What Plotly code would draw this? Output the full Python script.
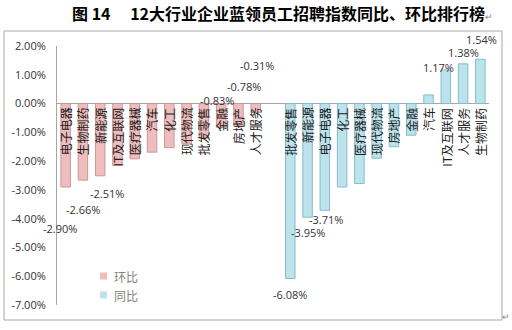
import plotly.graph_objects as go

# ---- data ----
hb_names = ["电子电器", "生物制药", "新能源", "IT及互联网", "医疗器械", "汽车", "化工",
            "现代物流", "批发零售", "金融", "房地产", "人才服务"]
hb_values = [-2.90, -2.66, -2.51, -2.15, -1.92, -1.69, -1.53, -1.40, -1.20, -0.83, -0.78, -0.31]

tb_names = ["批发零售", "新能源", "电子电器", "化工", "医疗器械", "现代物流", "房地产", "金融",
            "汽车", "IT及互联网", "人才服务", "生物制药"]
tb_values = [-6.08, -3.95, -3.71, -2.90, -2.78, -1.90, -1.50, -1.10, 0.30, 1.17, 1.38, 1.54]

yticks = [2, 1, 0, -1, -2, -3, -4, -5, -6, -7]
ytick_text = ["2.00%", "1.00%", "0.00%", "-1.00%", "-2.00%", "-3.00%", "-4.00%", "-5.00%", "-6.00%", "-7.00%"]

series_names = ["环比", "同比"]

# shown data labels: index in series and label position (x offset, y value, extra pixel shift)
hb_label_idx = [0, 1, 2, 9, 10, 11]
hb_label_pos = [(-0.35, -4.33, 0), (0.0, -3.67, 0), (0.4, -3.11, 0), (-0.25, 0.12, 0), (0.3, 0.61, 0), (0.1, 1.33, 0)]
tb_label_idx = [0, 1, 2, 9, 10, 11]
tb_label_pos = [(0.0, -6.62, 0), (0.0, -4.47, 0), (0.05, -4.02, 0), (-0.45, 1.27, 0), (0.05, 1.76, 0), (0.05, 2.0, 7)]

hb_x = list(range(len(hb_names)))
tb_x = [len(hb_names) + 1 + i for i in range(len(tb_names))]

PINK, PINK_LINE = "#EFBDBD", "#C79898"
BLUE, BLUE_LINE = "#BCE3EC", "#86BBCB"

fig = go.Figure()
fig.add_trace(go.Bar(x=hb_x, y=hb_values, name=series_names[0], width=0.55,
                     marker=dict(color=PINK, line=dict(color=PINK_LINE, width=1))))
fig.add_trace(go.Bar(x=tb_x, y=tb_values, name=series_names[1], width=0.55,
                     marker=dict(color=BLUE, line=dict(color=BLUE_LINE, width=1))))

W, H = 512, 330
L, R, T, B = 57, 23, 46, 25
pw, ph = W - L - R, H - T - B


def px_to_paper(x, y):
    return (x - L) / pw, 1 - (y - T) / ph


ann = []
# category labels (rotated, reading bottom to top)
for xs, names in ((hb_x, hb_names), (tb_x, tb_names)):
    for x, n in zip(xs, names):
        ann.append(dict(x=x, y=0, xref="x", yref="y", text=n, textangle=-90,
                        showarrow=False, xanchor="center", yanchor="top", yshift=-2,
                        font=dict(size=12, color="#222222", family="Noto Sans CJK SC")))
# value labels
for xs, vals, idxs, poss in ((hb_x, hb_values, hb_label_idx, hb_label_pos),
                             (tb_x, tb_values, tb_label_idx, tb_label_pos)):
    for i, (dx, yy, ys) in zip(idxs, poss):
        ann.append(dict(x=xs[i] + dx, y=yy, xref="x", yref="y", yshift=ys,
                        text=f"{vals[i]:.2f}%", showarrow=False,
                        font=dict(size=11, color="#333333", family="Open Sans")))

# title
tx, ty = px_to_paper(282, 13)
ann.append(dict(x=tx, y=ty, xref="paper", yref="paper",
                text="<b>图 14　 12大行业企业蓝领员工招聘指数同比、环比排行榜</b><span style='font-size:9px;color:#888'>↵</span>",
                showarrow=False, font=dict(size=16, color="#000000", family="Noto Sans CJK SC"),
                xanchor="center", yanchor="middle"))
# paragraph mark bottom right
mx, my = px_to_paper(506, 316)
ann.append(dict(x=mx, y=my, xref="paper", yref="paper", text="↵", showarrow=False,
                font=dict(size=9, color="#888888"), xanchor="center", yanchor="middle"))

x0, y0 = px_to_paper(4, 31)
x1, y1 = px_to_paper(502, 320)
shapes = [dict(type="rect", xref="paper", yref="paper", x0=x0, y0=y1, x1=x1, y1=y0,
               line=dict(color="#A6A6A6", width=1), fillcolor="rgba(0,0,0,0)", layer="below")]

# legend drawn manually (small squares + labels)
for k, (name, col) in enumerate(zip(series_names, [PINK, BLUE])):
    cy = 276 + 19 * k
    sx0, sy0 = px_to_paper(100, cy - 3.5)
    sx1, sy1 = px_to_paper(107, cy + 3.5)
    shapes.append(dict(type="rect", xref="paper", yref="paper", x0=sx0, x1=sx1, y0=sy1, y1=sy0,
                       line=dict(width=0), fillcolor=col))
    ax_, ay_ = px_to_paper(112, cy)
    ann.append(dict(x=ax_, y=ay_, xref="paper", yref="paper", text=name, showarrow=False,
                    xanchor="left", yanchor="middle",
                    font=dict(size=12, color="#808080", family="Noto Sans CJK SC")))

fig.update_layout(
    width=W, height=H, margin=dict(l=L, r=R, t=T, b=B),
    paper_bgcolor="white", plot_bgcolor="white",
    showlegend=False,
    xaxis=dict(range=[-0.5, 24.5], showticklabels=False, showgrid=False, zeroline=False,
               showline=False, ticks=""),
    yaxis=dict(range=[-7, 2], tickvals=yticks, ticktext=ytick_text, showgrid=False,
               zeroline=True, zerolinecolor="#A6A6A6", zerolinewidth=1,
               showline=True, linecolor="#A6A6A6", linewidth=1,
               tickfont=dict(size=11, color="#333333", family="Open Sans"),
               ticks="", ticklabelstandoff=8),
    annotations=ann, shapes=shapes, bargap=0.45,
)

fig.write_html("out.html")
